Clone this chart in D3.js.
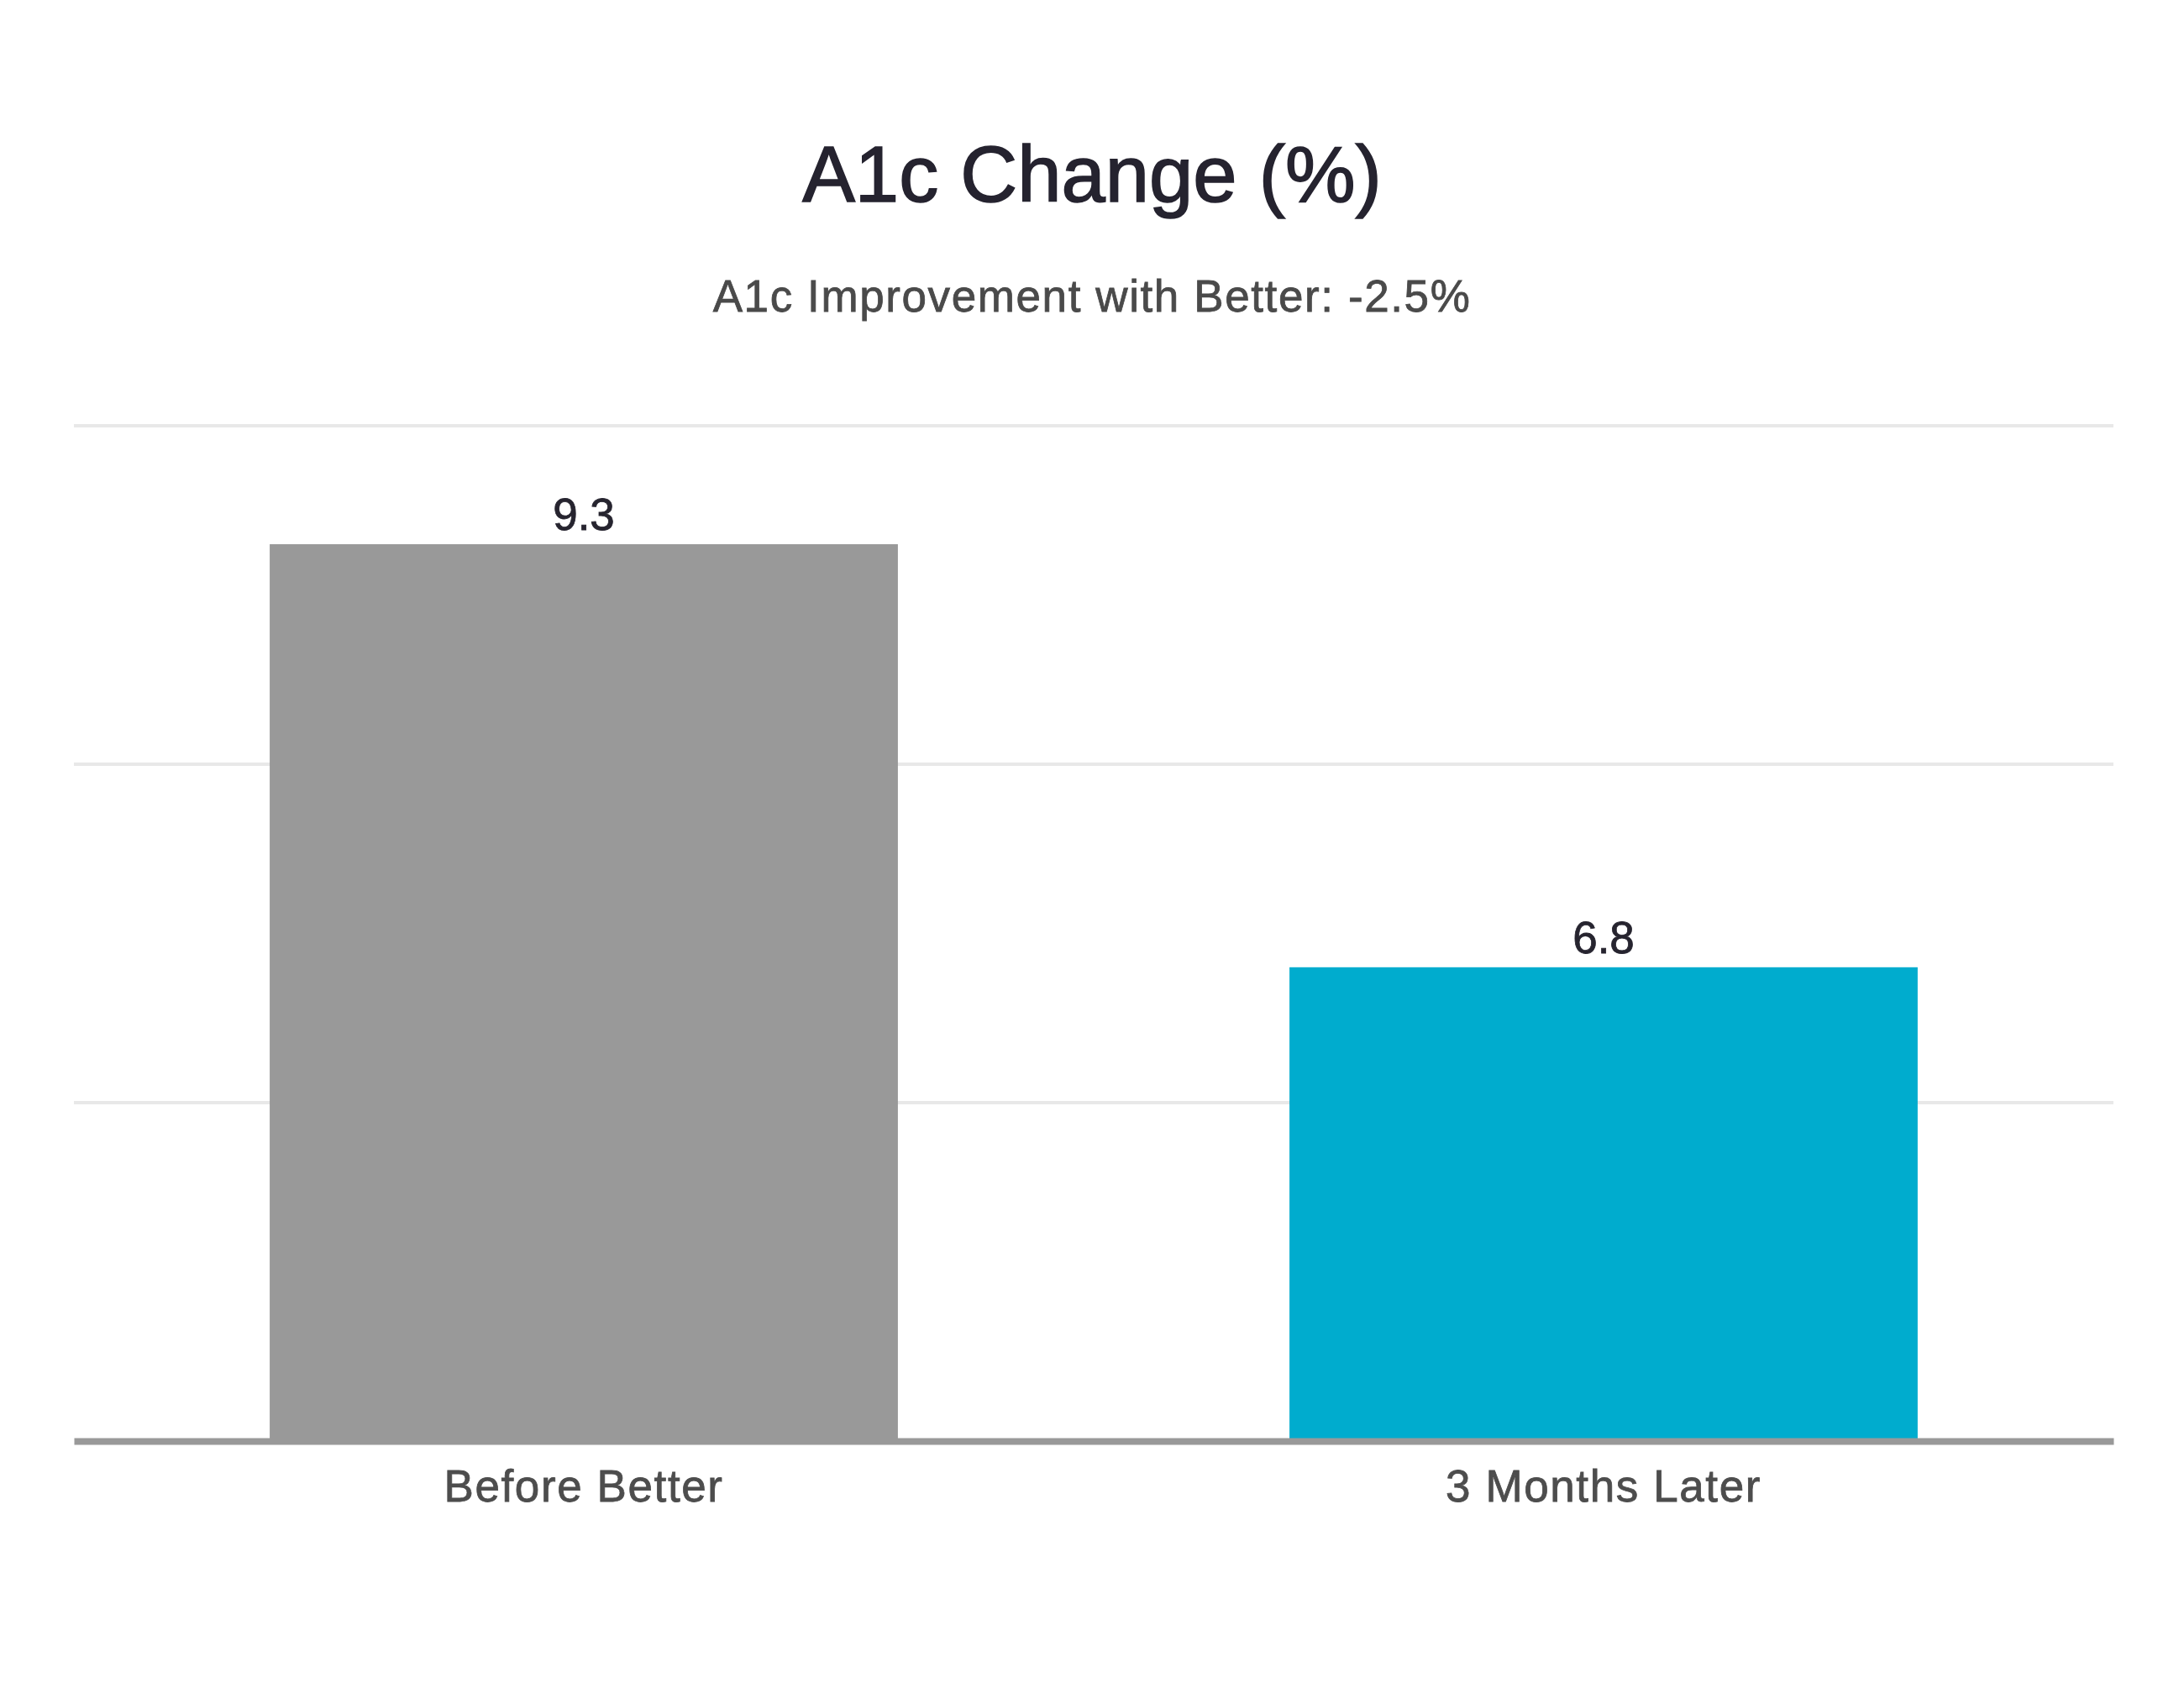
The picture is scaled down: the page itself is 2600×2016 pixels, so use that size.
<!DOCTYPE html>
<html>
<head>
<meta charset="utf-8">
<script src="https://cdn.jsdelivr.net/npm/d3@7"></script>
<style>
  html, body { margin: 0; padding: 0; background: #ffffff; }
  svg { display: block; font-family: "Liberation Sans", Arial, sans-serif; }
</style>
</head>
<body>
<svg id="chart" width="2600" height="2016"></svg>
<script>
const categories = ["Before Better", "3 Months Later"];
const values = [9.3, 6.8];
const barColors = ["#999999", "#00acce"];
const gridTicks = [6, 8, 10];
const titleText = "A1c Change (%)";
const subtitleText = "A1c Improvement with Better: -2.5%";

const W = 2600, H = 2016;
const svg = d3.select("#chart");
svg.append("rect").attr("width", W).attr("height", H).attr("fill", "#ffffff");

const x = d3.scaleBand().domain(categories).range([88, 2516]).paddingInner(0.384).paddingOuter(0.192);
const y = d3.scaleLinear().domain([4, 10]).range([1716, 507]);

// gridlines
svg.append("g").selectAll("line").data(gridTicks).join("line")
  .attr("x1", 88).attr("x2", 2516)
  .attr("y1", d => y(d)).attr("y2", d => y(d))
  .attr("stroke", "#e8e8e8").attr("stroke-width", 4);

// bars
svg.append("g").selectAll("rect").data(values).join("rect")
  .attr("x", (d, i) => x(categories[i]))
  .attr("width", x.bandwidth())
  .attr("y", d => y(d))
  .attr("height", d => y(4) - y(d))
  .attr("fill", (d, i) => barColors[i]);

// baseline axis
const xAxis = d3.axisBottom(x).tickSize(0).tickPadding(0);
const gx = svg.append("g").attr("transform", `translate(0,${y(4)})`).call(xAxis);
gx.select(".domain").attr("stroke", "#999999").attr("stroke-width", 8);
gx.selectAll("text")
  .attr("dy", null).attr("y", 72)
  .attr("font-size", 53).attr("fill", "#4d4d4d")
  .attr("stroke", "#4d4d4d").attr("stroke-width", 0.8)
  .attr("letter-spacing", 1.6)
  .attr("font-family", "'Liberation Sans', Arial, sans-serif");

// value labels
svg.append("g").selectAll("text").data(values).join("text")
  .attr("x", (d, i) => x(categories[i]) + x.bandwidth() / 2)
  .attr("y", d => y(d) - 17)
  .attr("text-anchor", "middle")
  .attr("font-size", 53).attr("fill", "#26242f")
  .attr("stroke", "#26242f").attr("stroke-width", 0.8)
  .text(d => d.toFixed(1));

// title & subtitle
svg.append("text").attr("x", 1300).attr("y", 240).attr("text-anchor", "middle")
  .attr("font-size", 94).attr("fill", "#25232f")
  .attr("stroke", "#25232f").attr("stroke-width", 1.6)
  .text(titleText);
svg.append("text").attr("x", 1300).attr("y", 371).attr("text-anchor", "middle")
  .attr("font-size", 53).attr("fill", "#4a4a4a")
  .attr("stroke", "#4a4a4a").attr("stroke-width", 0.8)
  .attr("letter-spacing", 1.6)
  .text(subtitleText);
</script>
</body>
</html>
